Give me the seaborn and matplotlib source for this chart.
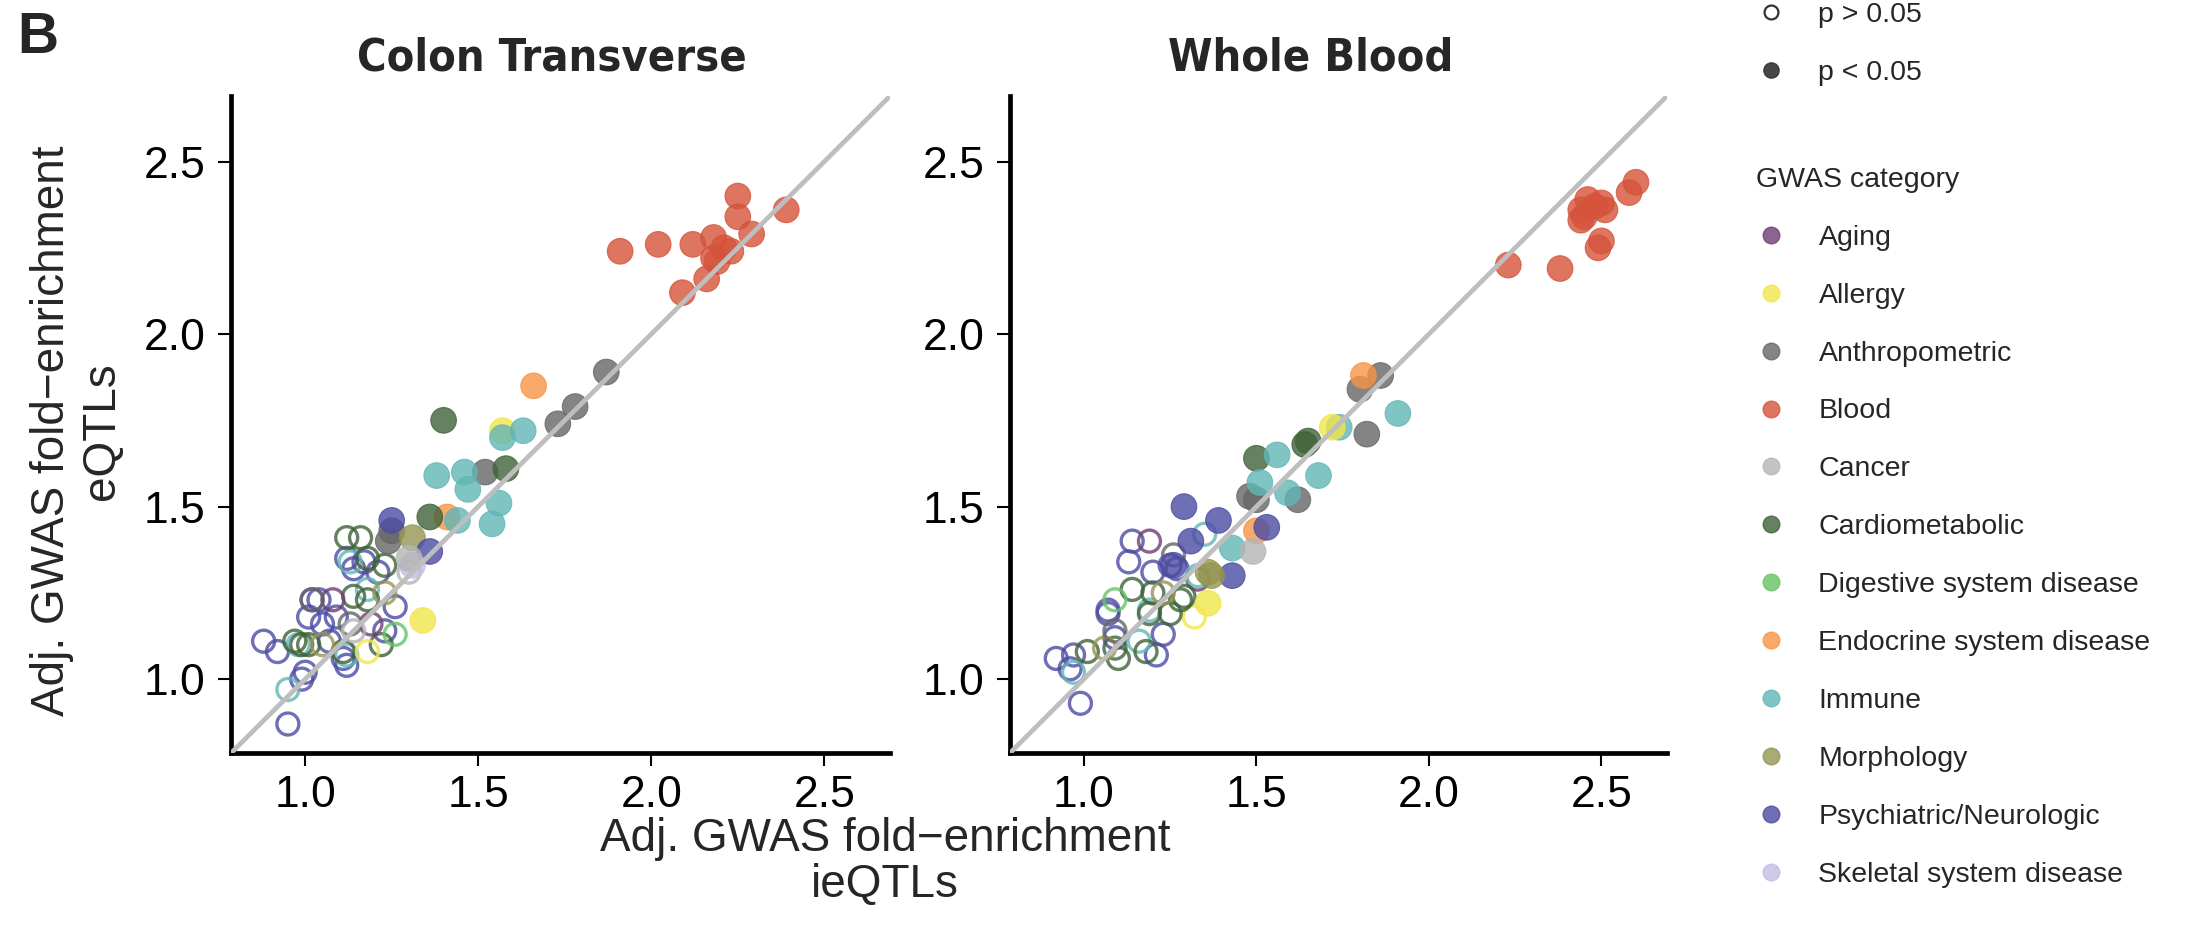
import numpy as np
import pandas as pd
import matplotlib
matplotlib.use("Agg")
import matplotlib.pyplot as plt
import seaborn as sns
from matplotlib import font_manager
from matplotlib.font_manager import FontProperties
from matplotlib.lines import Line2D

# GWAS categories and colours
categories = ["Aging", "Allergy", "Anthropometric", "Blood", "Cancer", "Cardiometabolic",
              "Digestive system disease", "Endocrine system disease", "Immune", "Morphology",
              "Psychiatric/Neurologic", "Skeletal system disease"]
cat_colors = ["#6E3F73", "#F1E64A", "#666666", "#D5533A", "#B5B5B5", "#3F6338",
              "#67C467", "#F89445", "#62B6B6", "#959552", "#4B4BA3", "#C3BDE4"]

ticks = [1.0, 1.5, 2.0, 2.5]
lims = (0.786, 2.69)

# ---- Colon Transverse ----
colon_x = [
    # p < 0.05
    2.25, 2.25, 2.39, 2.29, 2.18, 2.12, 2.02, 1.91, 2.21, 2.23, 2.18, 2.19, 2.16, 2.09,  # Blood
    1.87, 1.78, 1.73, 1.52, 1.24, 1.25,                                                  # Anthropometric
    1.66, 1.41,                                                                          # Endocrine
    1.40, 1.58, 1.36,                                                                    # Cardiometabolic
    1.57, 1.34,                                                                          # Allergy
    1.63, 1.57, 1.38, 1.46, 1.47, 1.56, 1.54, 1.44,                                      # Immune
    1.31,                                                                                # Morphology
    1.25, 1.36,                                                                          # Psychiatric
    1.31,                                                                                # Skeletal
    1.30,                                                                                # Cancer
    # p > 0.05
    0.88, 0.92, 0.95, 0.99, 1.00, 1.02, 1.04, 1.01, 1.05, 1.07, 1.09, 1.12, 1.11,
    1.12, 1.14, 1.21, 1.26, 1.23, 1.17,                                                  # Psychiatric
    0.95, 1.13, 1.18, 1.12, 0.98,                                                        # Immune
    1.12, 1.16, 1.18, 1.23, 1.14, 1.18, 0.97, 1.01, 0.99, 1.22, 1.11,                    # Cardiometabolic
    1.18,                                                                                # Allergy
    1.08, 1.19,                                                                          # Aging
    1.02, 1.13,                                                                          # Anthropometric
    1.05, 1.23,                                                                          # Morphology
    1.26,                                                                                # Digestive
    1.14, 1.30,                                                                          # Cancer
]
colon_y = [
    2.40, 2.34, 2.36, 2.29, 2.28, 2.26, 2.26, 2.24, 2.25, 2.24, 2.22, 2.21, 2.16, 2.12,
    1.89, 1.79, 1.74, 1.60, 1.40, 1.43,
    1.85, 1.47,
    1.75, 1.61, 1.47,
    1.72, 1.17,
    1.72, 1.70, 1.59, 1.60, 1.55, 1.51, 1.45, 1.46,
    1.41,
    1.46, 1.37,
    1.33,
    1.35,
    1.11, 1.08, 0.87, 1.00, 1.02, 1.23, 1.23, 1.18, 1.16, 1.11, 1.18, 1.04, 1.06,
    1.35, 1.32, 1.31, 1.21, 1.14, 1.34,
    0.97, 1.34, 1.26, 1.07, 1.10,
    1.41, 1.41, 1.35, 1.33, 1.24, 1.23, 1.11, 1.10, 1.10, 1.10, 1.08,
    1.08,
    1.23, 1.16,
    1.23, 1.16,
    1.10, 1.25,
    1.13,
    1.14, 1.31,
]
colon_cat = (["Blood"] * 14 + ["Anthropometric"] * 6 + ["Endocrine system disease"] * 2
             + ["Cardiometabolic"] * 3 + ["Allergy"] * 2 + ["Immune"] * 8 + ["Morphology"]
             + ["Psychiatric/Neurologic"] * 2 + ["Skeletal system disease"] + ["Cancer"]
             + ["Psychiatric/Neurologic"] * 19 + ["Immune"] * 5 + ["Cardiometabolic"] * 11
             + ["Allergy"] + ["Aging"] * 2 + ["Anthropometric"] * 2 + ["Morphology"] * 2
             + ["Digestive system disease"] + ["Cancer"] * 2)
colon_sig = [True] * 40 + [False] * 45

# ---- Whole Blood ----
blood_x = [
    # p < 0.05
    2.60, 2.58, 2.46, 2.50, 2.44, 2.48, 2.51, 2.45, 2.44, 2.50, 2.49, 2.23, 2.38,        # Blood
    1.86, 1.80, 1.82, 1.48, 1.62, 1.50,                                                  # Anthropometric
    1.81, 1.50,                                                                          # Endocrine
    1.65, 1.50, 1.64,                                                                    # Cardiometabolic
    1.91, 1.74, 1.56, 1.51, 1.68, 1.59, 1.43,                                            # Immune
    1.72, 1.36,                                                                          # Allergy
    1.29, 1.39, 1.53, 1.31, 1.43, 1.26,                                                  # Psychiatric
    1.36, 1.37,                                                                          # Morphology
    1.49,                                                                                # Cancer
    # p > 0.05
    1.32,                                                                                # Allergy
    0.92, 0.96, 0.97, 0.99, 1.07, 1.07, 1.13, 1.14, 1.20, 1.23, 1.21, 1.25, 1.09, 1.27,  # Psychiatric
    1.19, 1.33,                                                                          # Aging
    1.35, 0.97, 1.16, 1.19, 1.33,                                                        # Immune
    1.01, 1.14, 1.20, 1.25, 1.19, 1.29, 1.10, 1.18, 1.28, 1.09,                          # Cardiometabolic
    1.09,                                                                                # Digestive
    1.06, 1.23,                                                                          # Morphology
    1.09, 1.26,                                                                          # Anthropometric
]
blood_y = [
    2.44, 2.41, 2.39, 2.38, 2.36, 2.37, 2.36, 2.34, 2.33, 2.27, 2.25, 2.20, 2.19,
    1.88, 1.84, 1.71, 1.53, 1.52, 1.52,
    1.88, 1.43,
    1.69, 1.64, 1.68,
    1.77, 1.73, 1.65, 1.57, 1.59, 1.54, 1.38,
    1.73, 1.22,
    1.50, 1.46, 1.44, 1.40, 1.30, 1.33,
    1.31, 1.30,
    1.37,
    1.18,
    1.06, 1.03, 1.07, 0.93, 1.19, 1.20, 1.34, 1.40, 1.31, 1.13, 1.07, 1.33, 1.12, 1.32,
    1.40, 1.29,
    1.42, 1.02, 1.11, 1.20, 1.30,
    1.08, 1.26, 1.25, 1.19, 1.19, 1.24, 1.06, 1.08, 1.23, 1.09,
    1.23,
    1.09, 1.25,
    1.14, 1.36,
]
blood_cat = (["Blood"] * 13 + ["Anthropometric"] * 6 + ["Endocrine system disease"] * 2
             + ["Cardiometabolic"] * 3 + ["Immune"] * 7 + ["Allergy"] * 2
             + ["Psychiatric/Neurologic"] * 6 + ["Morphology"] * 2 + ["Cancer"]
             + ["Allergy"] + ["Psychiatric/Neurologic"] * 14 + ["Aging"] * 2 + ["Immune"] * 5
             + ["Cardiometabolic"] * 10 + ["Digestive system disease"] + ["Morphology"] * 2
             + ["Anthropometric"] * 2)
blood_sig = [True] * 42 + [False] * 37

sns.set_theme(style="white")
available = {f.name for f in font_manager.fontManager.ttflist}
base_font = "Liberation Sans" if "Liberation Sans" in available else "DejaVu Sans"
plt.rcParams["font.family"] = [base_font, "DejaVu Sans"]

# the titles use a condensed bold face if one is installed
title_prop = FontProperties(family=base_font, weight="bold")
for f in font_manager.fontManager.ttflist:
    if ("Narrow" in f.name or "Condensed" in f.name or "Condensed" in f.fname) \
            and f.weight in (700, "bold") and f.style == "normal":
        title_prop = FontProperties(fname=f.fname)
        break

palette = dict(zip(categories, cat_colors))

fig = plt.figure(figsize=(22.01, 9.43), dpi=100)
ax1 = fig.add_axes([0.1050, 0.2015, 0.2994, 0.6967])
ax2 = fig.add_axes([0.4589, 0.2015, 0.2985, 0.6967])


def draw_panel(ax, xs, ys, cats, sigs):
    df = pd.DataFrame({"x": xs, "y": ys, "cat": cats, "sig": sigs})
    # open circles (not significant) first
    ns = df[~df["sig"]]
    sns.scatterplot(data=ns, x="x", y="y", hue="cat", palette=palette, hue_order=categories,
                    s=250, alpha=0.8, linewidth=2.4, legend=False, ax=ax, zorder=2)
    coll = ax.collections[-1]
    fc = coll.get_facecolors()
    coll.set_edgecolors(fc)
    coll.set_facecolors("none")
    sg = df[df["sig"]]
    sns.scatterplot(data=sg, x="x", y="y", hue="cat", palette=palette, hue_order=categories,
                    s=340, alpha=0.8, linewidth=0.8, edgecolor="face", legend=False, ax=ax, zorder=2)
    ax.axline((1.0, 1.0), (2.0, 2.0), color="#BEBEBE", lw=3.4, zorder=3)
    ax.set_xlim(lims)
    ax.set_ylim(lims)
    ax.set_xticks(ticks)
    ax.set_yticks(ticks)
    ax.set_xticklabels([f"{t:.1f}" for t in ticks])
    ax.set_yticklabels([f"{t:.1f}" for t in ticks])
    ax.set_xlabel("")
    ax.set_ylabel("")
    sns.despine(ax=ax)
    for s in ["left", "bottom"]:
        ax.spines[s].set_linewidth(3.4)
        ax.spines[s].set_color("black")
    ax.tick_params(axis="both", length=9.5, width=1.5, color="black", labelsize=32,
                   labelcolor="black", pad=9, left=True, bottom=True)
    ax.tick_params(axis="x", pad=6)


draw_panel(ax1, colon_x, colon_y, colon_cat, colon_sig)
draw_panel(ax2, blood_x, blood_y, blood_cat, blood_sig)

t1 = ax1.set_title("Colon Transverse", fontproperties=title_prop, fontsize=39, pad=18, x=0.487)
t2 = ax2.set_title("Whole Blood", fontproperties=title_prop, fontsize=39, pad=18, x=0.458)
# scale the title size so "Colon Transverse" is as wide as in the original (about 389 px)
fig.canvas.draw()
w = t1.get_window_extent().width
size = min(39, 39 * 389 / w)
t1.set_fontsize(size)
t2.set_fontsize(size)

fig.text(0.0077, 0.988, "B", fontsize=41, fontweight="bold", va="top", ha="left")
fig.text(0.035, 0.543, "Adj. GWAS fold\u2212enrichment\neQTLs", rotation=90, fontsize=33,
         ha="center", va="center", multialignment="center", linespacing=1.2)

# x label sits just under the tick labels, so the two never collide
renderer = fig.canvas.get_renderer()
tick_bottom = min(lab.get_window_extent(renderer).y0
                  for ax in (ax1, ax2) for lab in ax.get_xticklabels())
fig.text(0.402, tick_bottom / fig.bbox.height - 0.002, "Adj. GWAS fold\u2212enrichment\nieQTLs",
         fontsize=33, ha="center", va="top", multialignment="center", linespacing=1.05)

# legends
p_handles = [
    Line2D([], [], ls="", marker="o", markersize=10, markerfacecolor="white",
           markeredgecolor="#333333", markeredgewidth=1.6),
    Line2D([], [], ls="", marker="o", markersize=11, markerfacecolor="#333333",
           markeredgecolor="#333333", alpha=0.9),
]
fig.legend(p_handles, ["p > 0.05", "p < 0.05"], loc="upper left", bbox_to_anchor=(0.798, 0.998),
           frameon=False, fontsize=20.5, labelspacing=1.12, handlelength=1.0, handletextpad=1.18,
           borderpad=0, borderaxespad=0)

c_handles = [Line2D([], [], ls="", marker="o", markersize=12, markerfacecolor=c,
                    markeredgecolor=c, alpha=0.8) for c in cat_colors]
leg = fig.legend(c_handles, categories, loc="upper left", bbox_to_anchor=(0.798, 0.823),
                 frameon=False, fontsize=20.5, title="GWAS category", title_fontsize=20.5,
                 labelspacing=1.12, handlelength=1.0, handletextpad=1.18, borderpad=0,
                 borderaxespad=0, alignment="left")

fig.savefig("out.png", dpi=100)
